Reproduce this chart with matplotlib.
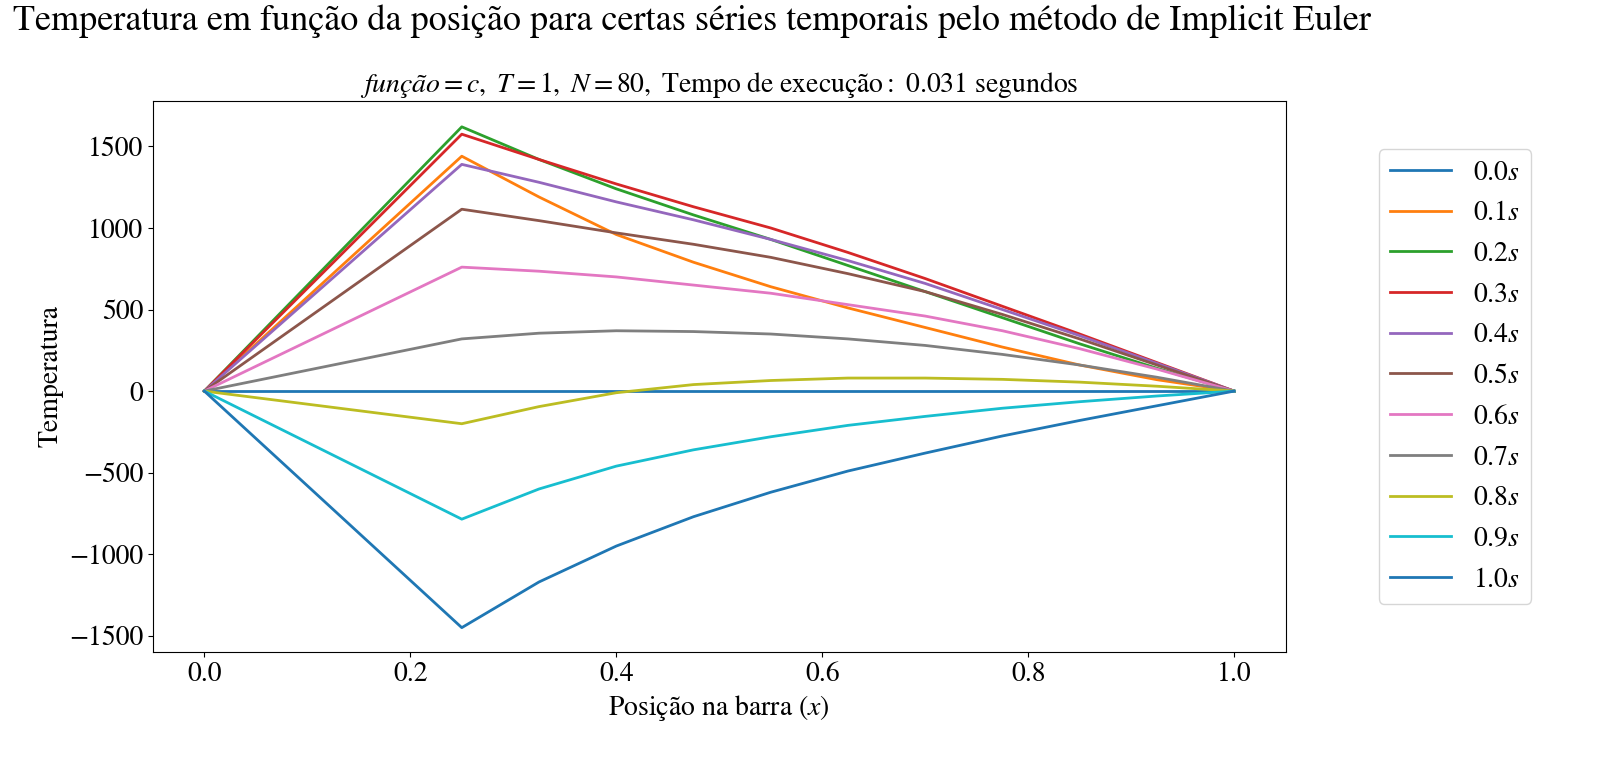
import matplotlib
matplotlib.use("Agg")
import matplotlib.pyplot as plt

plt.rcParams['font.family'] = 'STIXGeneral'
plt.rcParams['mathtext.fontset'] = 'stix'

xs = [0.0, 0.25, 0.325, 0.4, 0.475, 0.55, 0.625, 0.7, 0.775, 0.85, 0.925, 1.0]
labels = ['0.0', '0.1', '0.2', '0.3', '0.4', '0.5', '0.6', '0.7', '0.8', '0.9', '1.0']
series = [
    [0, 0, 0, 0, 0, 0, 0, 0, 0, 0, 0, 0],
    [0, 1440, 1190, 960, 790, 640, 510, 390, 270, 160, 70, 0],
    [0, 1620, 1420, 1240, 1080, 930, 770, 610, 450, 290, 140, 0],
    [0, 1575, 1420, 1270, 1130, 1000, 850, 690, 520, 350, 175, 0],
    [0, 1390, 1280, 1160, 1050, 930, 800, 660, 500, 340, 170, 0],
    [0, 1115, 1045, 970, 900, 820, 720, 610, 470, 320, 160, 0],
    [0, 760, 735, 700, 650, 600, 530, 460, 370, 260, 135, 0],
    [0, 320, 355, 370, 365, 350, 320, 280, 225, 160, 85, 0],
    [0, -200, -95, -10, 40, 65, 80, 80, 72, 55, 30, 0],
    [0, -785, -600, -460, -360, -280, -210, -155, -105, -65, -30, 0],
    [0, -1450, -1170, -950, -770, -620, -490, -380, -275, -180, -90, 0],
]
colors = ['#1f77b4', '#ff7f0e', '#2ca02c', '#d62728', '#9467bd', '#8c564b',
          '#e377c2', '#7f7f7f', '#bcbd22', '#17becf', '#1f77b4']

fig = plt.figure(figsize=(16.09, 7.69), dpi=100)
ax = fig.add_axes([0.095, 0.152, 0.704, 0.717])
for lab, ys, c in zip(labels, series, colors):
    ax.plot(xs, ys, color=c, lw=2, label=f'${lab}s$')
ax.set_xlim(-0.05, 1.05)
ax.set_ylim(-1600, 1780)
ax.tick_params(labelsize=20)
ax.set_xlabel('Posição na barra $(x)$', fontsize=20)
ax.set_ylabel('Temperatura', fontsize=20)
ax.set_title(r'$função = c,\ T = 1,\ N = 80,\ \mathrm{Tempo\ de\ execução:\ 0.031\ segundos}$', fontsize=20)
fig.suptitle('Temperatura em função da posição para certas séries temporais pelo método de Implicit Euler',
             fontsize=26, x=0.43, y=0.995)
ax.legend(loc='center left', bbox_to_anchor=(1.07, 0.5), fontsize=20, handlelength=2.2, labelspacing=0.55)
fig.savefig('out.png', dpi=100)
